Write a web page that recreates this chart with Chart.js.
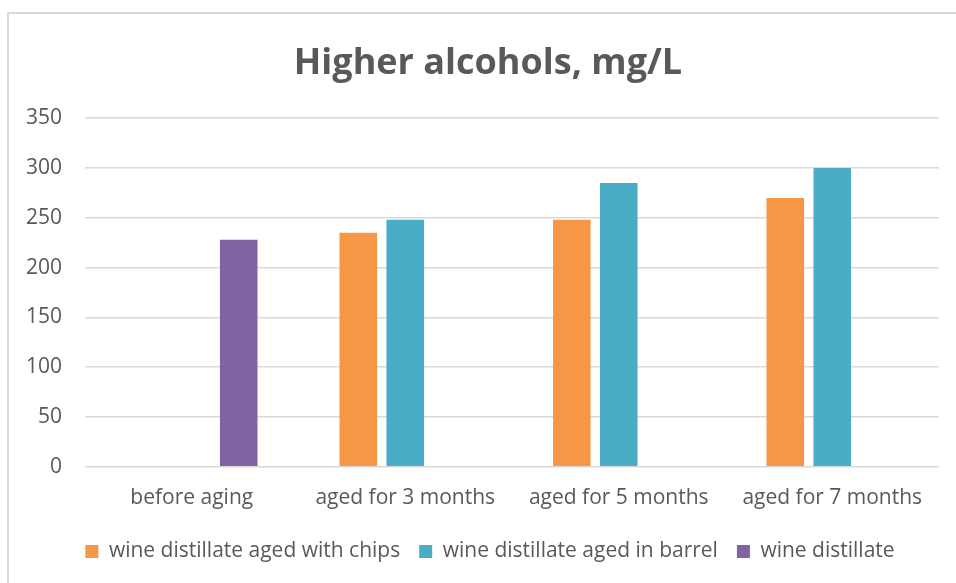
<!DOCTYPE html>
<html lang="en">
<head>
    <meta charset="UTF-8">
    <title>Higher alcohols, mg/L</title>
    <script src="https://cdn.jsdelivr.net/npm/chart.js"></script>
    <style>
        html, body {
            margin: 0;
            padding: 0;
            background: #ffffff;
            overflow: hidden;
        }
        .frame {
            position: absolute;
            left: 7px;
            top: 12px;
            width: 1000px;
            height: 700px;
            border-left: 2px solid #d9d9d9;
            border-top: 2px solid #d9d9d9;
        }
        .wrap {
            position: absolute;
            left: 0;
            top: 0;
            width: 956px;
            height: 583px;
        }
    </style>
</head>
<body>
    <div class="frame"></div>
    <div class="wrap"><canvas id="alcoholChart"></canvas></div>

    <script>
        const categories = ['before aging', 'aged for 3 months', 'aged for 5 months', 'aged for 7 months'];
        const chipsValues = [null, 235, 248, 270];
        const barrelValues = [null, 248, 285, 300];
        const distillateValues = [228, null, null, null];
        const seriesNames = ['wine distillate aged with chips', 'wine distillate aged in barrel', 'wine distillate'];

        const textColor = '#595959';
        const fontFamily = '"Open Sans", sans-serif';

        // the original centres title and legend a bit right of the canvas middle
        const shiftBlocks = {
            id: 'shiftBlocks',
            afterLayout(chart) {
                if (chart.titleBlock) {
                    chart.titleBlock.left += 34;
                }
                if (chart.legend) {
                    chart.legend.left += 38;
                }
            }
        };

        let ctx = document.getElementById('alcoholChart').getContext('2d');
        let chart = new Chart(ctx, {
            type: 'bar',
            data: {
                labels: categories,
                datasets: [
                    { label: seriesNames[0], data: chipsValues, backgroundColor: '#f79646' },
                    { label: seriesNames[1], data: barrelValues, backgroundColor: '#4bacc6' },
                    { label: seriesNames[2], data: distillateValues, backgroundColor: '#8064a2' }
                ]
            },
            plugins: [shiftBlocks],
            options: {
                responsive: true,
                maintainAspectRatio: false,
                animation: false,
                categoryPercentage: 0.66,
                barPercentage: 0.8,
                layout: { padding: { left: 3, right: 17, top: 0, bottom: 11 } },
                plugins: {
                    title: {
                        display: true,
                        text: 'Higher alcohols, mg/L',
                        color: textColor,
                        font: { family: fontFamily, size: 36, weight: 'bold' },
                        padding: { top: 42, bottom: 33 }
                    },
                    legend: {
                        position: 'bottom',
                        labels: {
                            color: textColor,
                            font: { family: fontFamily, size: 21 },
                            boxWidth: 13,
                            boxHeight: 13,
                            padding: 19
                        }
                    },
                    tooltip: { enabled: false }
                },
                scales: {
                    x: {
                        grid: { display: false },
                        border: { display: false },
                        ticks: {
                            color: textColor,
                            font: { family: fontFamily, size: 21 },
                            padding: 11,
                            maxRotation: 0
                        }
                    },
                    y: {
                        min: 0,
                        max: 350,
                        grid: { color: '#d9d9d9', lineWidth: 1.5, drawTicks: false },
                        border: { display: false },
                        ticks: {
                            stepSize: 50,
                            color: textColor,
                            font: { family: fontFamily, size: 21 },
                            padding: 23
                        }
                    }
                }
            }
        });
    </script>
</body>
</html>
